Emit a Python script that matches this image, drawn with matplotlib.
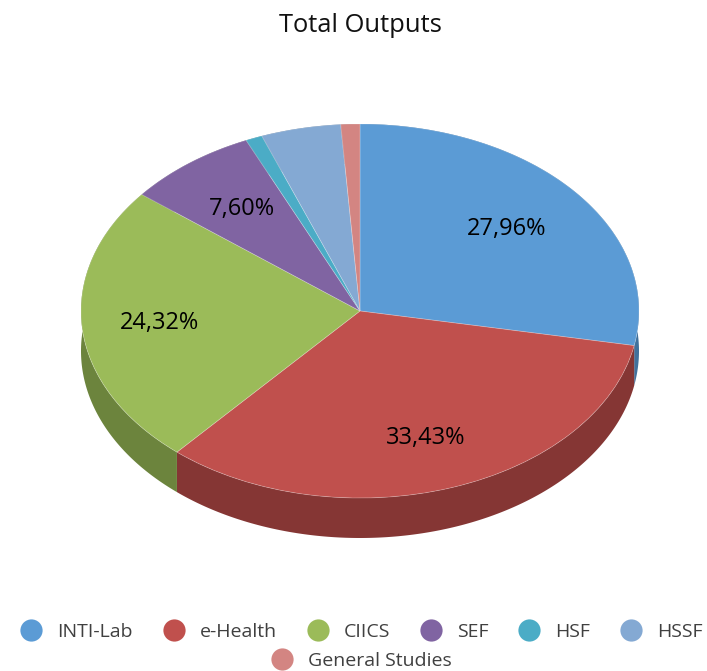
import numpy as np
import matplotlib
matplotlib.use("Agg")
import matplotlib.pyplot as plt
from matplotlib.lines import Line2D

categories = ["INTI-Lab", "e-Health", "CIICS", "SEF", "HSF", "HSSF", "General Studies"]
values = [27.96, 33.43, 24.32, 7.60, 0.97, 4.62, 1.10]
shown_labels = ["27,96%", "33,43%", "24,32%", "7,60%", None, None, None]
colors = ["#5B9BD5", "#C0504D", "#9BBB59", "#8064A2", "#4BACC6", "#84A9D3", "#D38582"]
side_colors = ["#41719C", "#853634", "#6C843D", "#5A4672", "#347888", "#5C7694", "#935D5B"]

W, H = 707, 671
CX, CY, RX, RY, DEPTH = 360, 311, 279, 187, 40

fig = plt.figure(figsize=(W / 100, H / 100), dpi=100, facecolor="white")
ax = fig.add_axes([0, 0, 1, 1])

total = sum(values)
cum = np.cumsum([0] + values)
d = DEPTH / RY

# side wall of each slice, drawn under the top disc
for i in range(len(values)):
    t = np.linspace(cum[i], cum[i + 1], 200) / total * 2 * np.pi
    x = np.sin(t)
    y = np.cos(t)
    ax.fill(np.r_[x, x[::-1]], np.r_[y, y[::-1] - d], color=side_colors[i], linewidth=0)

wedges, _ = ax.pie(values, colors=colors, startangle=90, counterclock=False,
                   center=(0, 0), radius=1,
                   wedgeprops={"linewidth": 0.6, "edgecolor": (1, 1, 1, 0.25)}, normalize=True)

ax.set_aspect("auto")
ax.set_xlim(-CX / RX, (W - CX) / RX)
ax.set_ylim((CY - H) / RY, CY / RY)
ax.axis("off")

font = "Open Sans"
label_r = [0.685, 0.72, 0.72, 0.69]
for i, lab in enumerate(shown_labels):
    if lab is None:
        continue
    mid = (cum[i] + cum[i + 1]) / 2 / total * 2 * np.pi
    ax.text(label_r[i] * np.sin(mid), label_r[i] * np.cos(mid), lab,
            ha="center", va="center", fontsize=17, family=font, color="#000000")

fig.text(360 / W, 1 - 25 / H, "Total Outputs", ha="center", va="center",
         fontsize=18.4, family=font, color="#111111")

def handle(c):
    return Line2D([], [], linestyle="none", marker="o", markersize=16,
                  markerfacecolor=c, markeredgewidth=0)

common = dict(loc="center", frameon=False, prop={"family": font, "size": 14},
              labelcolor="#404040", handletextpad=0.74, borderpad=0, handlelength=1.2)
leg1 = fig.legend([handle(c) for c in colors[:6]], categories[:6], ncol=6,
                  bbox_to_anchor=(361 / W, 1 - 632 / H), columnspacing=1.5, **common)
leg2 = fig.legend([handle(colors[6])], categories[6:], ncol=1,
                  bbox_to_anchor=(361 / W, 1 - 661 / H), **common)

fig.savefig("out.png", dpi=100)
